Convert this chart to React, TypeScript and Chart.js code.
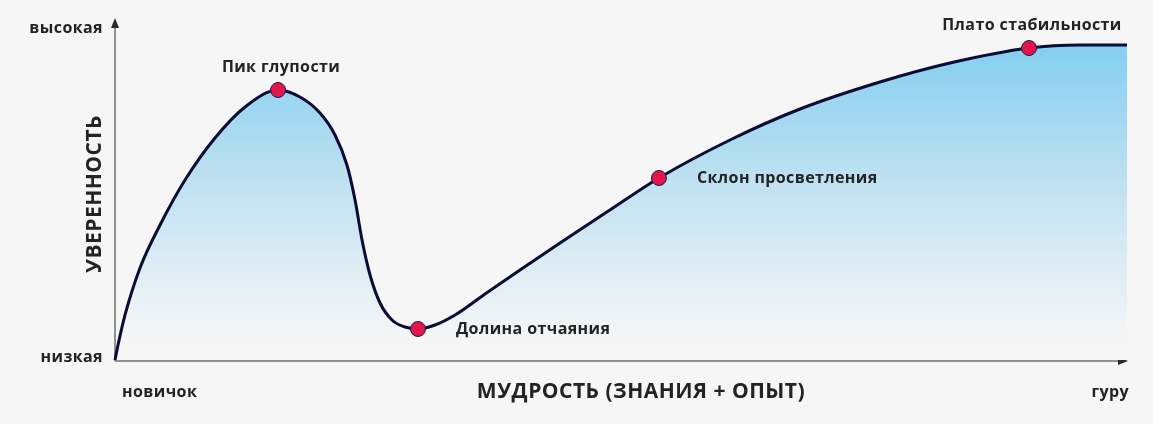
import React, { useEffect, useRef } from "react";
import { Chart, registerables } from "chart.js";

Chart.register(...registerables);

// Curve (experience 0..100 → confidence 0..100)
const curveX = [0, 0.3, 0.99, 2.47, 4.45, 6.92, 9.88, 12.85, 16.11, 18.28, 20.26, 21.74, 22.92, 23.72, 24.41, 25.2, 26.19, 27.37, 28.66, 29.94, 31.62, 33.6, 36.56, 40.02, 43.97, 48.91, 53.75, 60.77, 67.69, 75.59, 82.51, 90.32, 95.36, 100];
const curveY = [0, 4.41, 13.24, 27.06, 39.71, 52.94, 65.29, 74.41, 79.41, 77.35, 72.65, 66.18, 57.35, 47.06, 35.29, 25.0, 16.76, 11.76, 9.71, 9.12, 10.29, 13.24, 19.41, 26.47, 34.41, 44.12, 53.53, 64.71, 73.82, 81.76, 87.35, 91.76, 92.65, 92.65];

// Milestones
const milestoneNames = ["Пик глупости", "Долина отчаяния", "Склон просветления", "Плато стабильности"];
const milestoneX = [16.11, 29.94, 53.75, 90.32];
const milestoneY = [79.41, 9.12, 53.53, 91.76];
const milestonePlacement = ["above", "right", "right", "above"];

// Axis texts
const yTickLabels = ["низкая", "высокая"];
const yTickValues = [0, 100];
const xTickLabels = ["новичок", "гуру"];
const xTitle = "МУДРОСТЬ (ЗНАНИЯ + ОПЫТ)";
const yTitle = "УВЕРЕННОСТЬ";

const TEXT = "#232323";
const FONT = '"Open Sans", "DejaVu Sans", sans-serif';

const decorPlugin = {
  id: "decor",
  beforeDraw(chart: any) {
    const c = chart.ctx;
    c.save();
    c.fillStyle = "#f6f6f6";
    c.fillRect(0, 0, chart.width, chart.height);
    c.restore();
  },
  beforeDatasetsDraw(chart: any) {
    const c = chart.ctx;
    const xs = chart.scales.x;
    const ys = chart.scales.y;
    const x0 = xs.getPixelForValue(0);
    const y0 = ys.getPixelForValue(0) + 1;
    const xEnd = xs.getPixelForValue(100) + 1;
    const yTop = ys.getPixelForValue(100) - 2;
    c.save();
    c.strokeStyle = "#707070";
    c.lineWidth = 1.5;
    c.beginPath();
    c.moveTo(x0, y0);
    c.lineTo(x0, yTop + 8);
    c.moveTo(x0, y0);
    c.lineTo(xEnd - 8, y0);
    c.stroke();
    c.fillStyle = "#2a2a2a";
    c.beginPath();
    c.moveTo(x0, yTop);
    c.lineTo(x0 - 4, yTop + 10);
    c.lineTo(x0 + 4, yTop + 10);
    c.closePath();
    c.fill();
    c.beginPath();
    c.moveTo(xEnd, y0);
    c.lineTo(xEnd - 10, y0 - 4);
    c.lineTo(xEnd - 10, y0 + 4);
    c.closePath();
    c.fill();
    c.restore();
  },
  afterDraw(chart: any) {
    const c = chart.ctx;
    const xs = chart.scales.x;
    const ys = chart.scales.y;
    c.save();
    c.fillStyle = TEXT;
    c.textBaseline = "middle";
    // milestone labels
    c.font = `bold 16px ${FONT}`;
    (c as any).letterSpacing = "0.4px";
    milestoneNames.forEach((name, i) => {
      const px = xs.getPixelForValue(milestoneX[i]);
      const py = ys.getPixelForValue(milestoneY[i]);
      if (milestonePlacement[i] === "above") {
        c.textAlign = "center";
        c.fillText(name, px + 3, py - 23);
      } else {
        c.textAlign = "left";
        c.fillText(name, px + 38, py);
      }
    });
    // y tick labels
    const x0 = xs.getPixelForValue(0);
    c.textAlign = "right";
    yTickLabels.forEach((t, i) => {
      const py = ys.getPixelForValue(yTickValues[i]);
      c.fillText(t, x0 - 12, py + (i === 0 ? -3 : 8));
    });
    // x tick labels
    const yBase = ys.getPixelForValue(0) + 32;
    c.textAlign = "left";
    c.fillText(xTickLabels[0], x0 + 7, yBase);
    c.textAlign = "right";
    c.fillText(xTickLabels[1], xs.getPixelForValue(100) + 2, yBase);
    // titles
    c.font = `bold 21px ${FONT}`;
    (c as any).letterSpacing = "0.5px";
    c.textAlign = "center";
    c.fillText(xTitle, (xs.left + xs.right) / 2 + 20, yBase);
    c.translate(x0 - 20, (ys.top + ys.bottom) / 2 + 4);
    c.rotate(-Math.PI / 2);
    c.fillText(yTitle, 0, 0);
    c.restore();
  },
};

export default function App() {
  const ref = useRef<HTMLCanvasElement | null>(null);
  useEffect(() => {
    if (!ref.current) return;
    const chart = new Chart(ref.current, {
      type: "line",
      data: {
        datasets: [
          {
            label: "Вехи",
            data: milestoneX.map((x, i) => ({ x, y: milestoneY[i] })),
            showLine: false,
            pointRadius: 7.5,
            pointBackgroundColor: "#e2164b",
            pointBorderColor: "#1b1b4d",
            pointBorderWidth: 1,
            clip: false,
            order: 0,
          } as any,
          {
            label: "Уверенность",
            data: curveX.map((x, i) => ({ x, y: curveY[i] })),
            borderColor: "#0b0b35",
            borderWidth: 3,
            pointRadius: 0,
            cubicInterpolationMode: "monotone",
            fill: "origin",
            clip: false,
            order: 1,
            backgroundColor: (ctx: any) => {
              const { chart } = ctx;
              const area = chart.chartArea;
              if (!area) return "rgba(0,0,0,0)";
              const g = chart.ctx.createLinearGradient(0, area.top + 30, 0, area.bottom - 20);
              g.addColorStop(0, "#86cff0");
              g.addColorStop(0.45, "#bfe1f1");
              g.addColorStop(1, "#f6f6f6");
              return g;
            },
          } as any,
        ],
      },
      options: {
        responsive: false,
        animation: false,
        layout: { padding: { left: 115, right: 26, top: 20, bottom: 64 } },
        scales: {
          x: { type: "linear", min: 0, max: 100, display: false },
          y: { type: "linear", min: 0, max: 100, display: false },
        },
        plugins: { legend: { display: false }, tooltip: { enabled: false } },
        events: [],
      },
      plugins: [decorPlugin],
    });
    return () => chart.destroy();
  }, []);
  return (
    <div style={{ position: "absolute", left: 0, top: 0, width: 1153, height: 424, background: "#f6f6f6" }}>
      <canvas ref={ref} width={1153} height={424} style={{ width: 1153, height: 424, display: "block" }} />
    </div>
  );
}
